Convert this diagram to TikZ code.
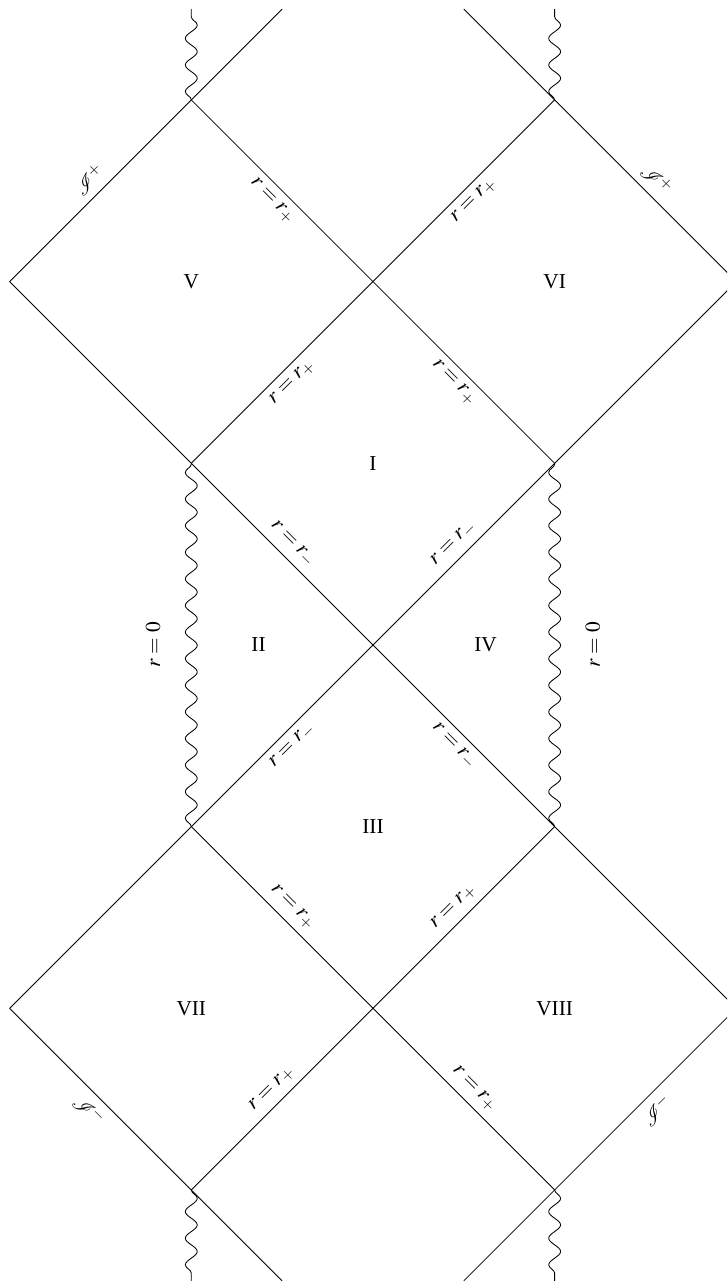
\documentclass[tikz,border=0pt]{standalone}
\usepackage{mathptmx}
\usepackage{mathrsfs}
\usepackage{fontspec}
\setmainfont{Liberation Serif}
\usetikzlibrary{decorations.pathmorphing}

\begin{document}
\begin{tikzpicture}[x=3cm, y=3cm,
  wavy/.style={decorate, decoration={snake, segment length=12.5pt, amplitude=2.8pt}}]
  \useasboundingbox (-2.053,-3.501) rectangle (1.949,3.550);
  \clip (-2.053,-3.501) rectangle (1.949,3.550);

  % null lines going up to the right
  \draw (-2,2) -- (-0.5,3.5);
  \draw (-1,1) -- (1,3);
  \draw (-2,-2) -- (2,2);
  \draw (-1,-3) -- (1,-1);
  \draw (0.5,-3.5) -- (2,-2);

  % null lines going down to the right
  \draw (0.5,3.5) -- (2,2);
  \draw (-1,3) -- (1,1);
  \draw (-2,2) -- (2,-2);
  \draw (-1,-1) -- (1,-3);
  \draw (-2,-2) -- (-0.5,-3.5);

  % singularities
  \foreach \x in {-1,1} {
    \draw[wavy] (\x,3) -- (\x,3.5);
    \draw[wavy] (\x,-1) -- (\x,1);
    \draw[wavy] (\x,-3) -- (\x,-3.5);
  }
  \node[rotate=90] (singL) at (-1.21,0) {$r=0$};
  \node[rotate=90] (singR) at (1.21,0) {$r=0$};

  % regions
  \node (regV) at (-1,2) {V};
  \node (regVI) at (1,2) {VI};
  \node (regI) at (0,1) {I};
  \node (regII) at (-0.63,0) {II};
  \node (regIV) at (0.62,0) {IV};
  \node (regIII) at (0,-1) {III};
  \node (regVII) at (-1,-2) {VII};
  \node (regVIII) at (1,-2) {VIII};

  % outer horizons
  \path (-1,3) -- (0,2) node[midway, sloped, below] (hV) {$r=r_+$};
  \path (0,2) -- (1,3) node[midway, sloped, below] (hVI) {$r=r_+$};
  \path (-1,1) -- (0,2) node[midway, sloped, below] (hIa) {$r=r_+$};
  \path (0,2) -- (1,1) node[midway, sloped, below] (hIb) {$r=r_+$};
  \path (-1,-1) -- (0,-2) node[midway, sloped, above] (hIIIa) {$r=r_+$};
  \path (0,-2) -- (1,-1) node[midway, sloped, above] (hIIIb) {$r=r_+$};
  \path (-1,-3) -- (0,-2) node[midway, sloped, above] (hVII) {$r=r_+$};
  \path (0,-2) -- (1,-3) node[midway, sloped, above] (hVIII) {$r=r_+$};

  % inner horizons
  \path (-1,1) -- (0,0) node[midway, sloped, above] (cIa) {$r=r_-$};
  \path (0,0) -- (1,1) node[midway, sloped, above] (cIb) {$r=r_-$};
  \path (-1,-1) -- (0,0) node[midway, sloped, below] (cIIIa) {$r=r_-$};
  \path (0,0) -- (1,-1) node[midway, sloped, below] (cIIIb) {$r=r_-$};

  % null infinity
  \path (-2,2) -- (-1,3) node[midway, sloped, above] (scrV) {$\mathscr{I}^+$};
  \path (1,3) -- (2,2) node[midway, sloped, above] (scrVI) {$\mathscr{I}^+$};
  \path (-2,-2) -- (-1,-3) node[midway, sloped, below] (scrVII) {$\mathscr{I}^-$};
  \path (1,-3) -- (2,-2) node[midway, sloped, below] (scrVIII) {$\mathscr{I}^-$};
\end{tikzpicture}
\end{document}
